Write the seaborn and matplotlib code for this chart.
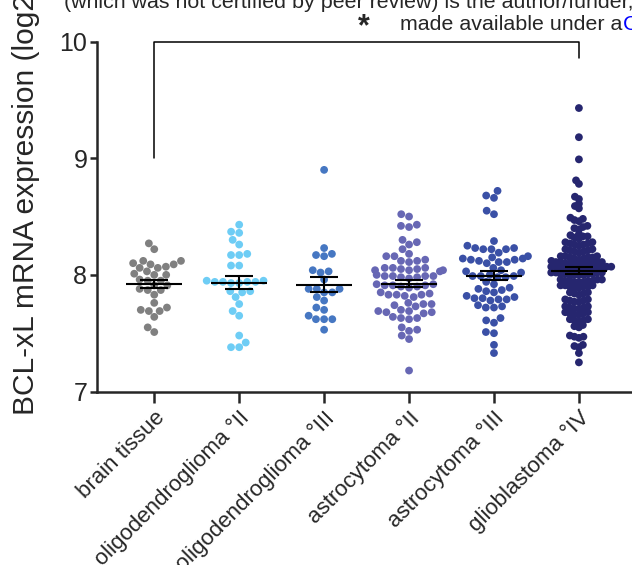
import numpy as np
import pandas as pd
import matplotlib.pyplot as plt
import seaborn as sns
from matplotlib.path import Path
from matplotlib.transforms import Affine2D

# --------------------------
# data (log2 expression)
# --------------------------
groups = ["brain tissue", "oligodendroglioma °II", "oligodendroglioma °III",
          "astrocytoma °II", "astrocytoma °III", "glioblastoma °IV"]
colors = ["#808080", "#6ECDF5", "#4677C2", "#6767B4", "#3A50A6", "#26266F"]

brain = [8.27, 8.22, 8.12, 8.12, 8.09, 8.09, 8.10, 8.06, 8.06, 8.07, 8.03, 8.00, 8.00,
         8.01, 7.95, 7.95, 7.96, 7.91, 7.91, 7.87, 7.87, 7.88, 7.83, 7.76, 7.72, 7.69,
         7.69, 7.70, 7.64, 7.55, 7.51]
oligo2 = [8.43, 8.36, 8.37, 8.30, 8.26, 8.18, 8.17, 8.17, 8.08, 8.08, 7.95, 7.94, 7.93,
          7.94, 7.95, 7.94, 7.93, 7.94, 7.86, 7.86, 7.85, 7.81, 7.75, 7.69, 7.65, 7.48,
          7.38, 7.42, 7.38]
oligo3 = [8.90, 8.23, 8.17, 8.16, 8.18, 8.02, 8.03, 8.04, 7.96, 7.88, 7.88, 7.88, 7.85,
          7.85, 7.78, 7.81, 7.72, 7.70, 7.65, 7.62, 7.62, 7.62, 7.53]
astro2 = [8.52, 8.50, 8.43, 8.41, 8.42, 8.28, 8.30, 8.26, 8.22, 8.18, 8.16, 8.16, 8.12,
          8.13, 8.11, 8.12, 8.06, 8.04, 8.05, 8.06, 8.04, 8.03, 8.04, 8.05, 8.06, 7.99,
          8.00, 7.99, 7.98, 7.99, 7.98, 7.97, 7.99, 7.91, 7.92, 7.91, 7.90, 7.91, 7.92,
          7.89, 7.90, 7.83, 7.84, 7.82, 7.83, 7.85, 7.83, 7.81, 7.75, 7.76, 7.74, 7.75,
          7.73, 7.69, 7.70, 7.68, 7.69, 7.67, 7.68, 7.63, 7.64, 7.62, 7.63, 7.55, 7.53,
          7.52, 7.48, 7.45, 7.18]
astro3 = [8.72, 8.66, 8.68, 8.52, 8.55, 8.29, 8.23, 8.22, 8.22, 8.23, 8.22, 8.25, 8.16,
          8.13, 8.14, 8.19, 8.12, 8.15, 8.11, 8.10, 8.14, 8.11, 8.13, 8.03, 8.04, 8.06,
          8.02, 7.99, 7.98, 7.99, 8.00, 7.99, 7.98, 7.94, 7.92, 7.89, 7.88, 7.86, 7.87,
          7.85, 7.82, 7.81, 7.80, 7.79, 7.79, 7.80, 7.78, 7.73, 7.72, 7.72, 7.74, 7.63,
          7.61, 7.59, 7.51, 7.50, 7.40, 7.33]
gbm = [9.43, 9.18, 8.99, 8.81, 8.78, 8.67, 8.65, 8.61, 8.59, 8.57,
       8.49, 8.47, 8.48, 8.46,
       8.42, 8.41, 8.40, 8.39,
       8.35, 8.34, 8.33, 8.32, 8.33, 8.31,
       8.28, 8.27, 8.26, 8.27, 8.25, 8.28, 8.26,
       8.22, 8.21, 8.20, 8.22, 8.19, 8.21, 8.20,
       8.16, 8.15, 8.14, 8.16, 8.15, 8.13, 8.14, 8.16, 8.15,
       8.11, 8.10, 8.09, 8.11, 8.10, 8.09, 8.11, 8.10, 8.12, 8.09, 8.10, 8.11,
       8.07, 8.06, 8.05, 8.06, 8.07, 8.05, 8.06, 8.07, 8.05, 8.06, 8.07, 8.06, 8.05, 8.06,
       8.02, 8.01, 8.00, 8.02, 8.01, 8.00, 8.02, 8.01, 8.00, 8.01, 8.02, 8.00,
       7.96, 7.95, 7.94, 7.96, 7.95, 7.94, 7.96, 7.95, 7.94, 7.95,
       7.91, 7.90, 7.89, 7.91, 7.90, 7.89, 7.90, 7.91,
       7.85, 7.84, 7.83, 7.84, 7.85,
       7.79, 7.78, 7.77, 7.78, 7.79, 7.77,
       7.73, 7.72, 7.71, 7.72, 7.73, 7.71,
       7.68, 7.67, 7.66, 7.67, 7.68, 7.66,
       7.62, 7.61, 7.60, 7.61, 7.62,
       7.57, 7.56, 7.55,
       7.48, 7.47, 7.46, 7.47,
       7.40, 7.39, 7.38,
       7.33, 7.25]

values = [brain, oligo2, oligo3, astro2, astro3, gbm]
df = pd.DataFrame({
    "group": np.repeat(groups, [len(v) for v in values]),
    "expr": np.concatenate(values),
})

sns.set_style("ticks")
plt.rcParams['font.family'] = ['Liberation Sans', 'DejaVu Sans']

fig = plt.figure(figsize=(6.32, 5.65), dpi=100)
ax = fig.add_axes([0.1535, 0.307, 0.87, 0.6195])

dot = 5.6
sns.swarmplot(data=df, x="group", y="expr", hue="group", order=groups,
              hue_order=groups, palette=colors, size=dot, legend=False,
              linewidth=0, ax=ax, warn_thresh=1)

# glioblastoma dots overlap in the original: swarm them as if smaller,
# but draw them at the same size as the others
k = 1.75
gbm_pts = ax.collections[5]
gbm_pts.set_sizes([(dot / k) ** 2])
gbm_pts.set_paths([Path.unit_circle().transformed(Affine2D().scale(0.5 * k))])

# mean +/- SEM
means = df.groupby("group")["expr"].mean().reindex(groups)
sems = df.groupby("group")["expr"].sem().reindex(groups)
xs = np.arange(len(groups))
ax.hlines(means.values, xs - 0.33, xs + 0.33, color="black", lw=1.5, zorder=5)
ax.errorbar(xs, means.values, yerr=sems.values, fmt="none", ecolor="black",
            elinewidth=1.5, capsize=10, capthick=1.5, zorder=5)

ax.set_ylim(7, 10)
ax.set_xlim(-0.674, 5.8)
ax.set_yticks([7, 8, 9, 10])
ax.tick_params(axis="y", labelsize=18, width=1.8, length=5, pad=2)
ax.tick_params(axis="x", labelsize=16, width=1.8, length=8)
ax.set_xticks(xs)
ax.set_xticklabels(groups, rotation=45, ha="right", rotation_mode="anchor")
for s in ["left", "bottom"]:
    ax.spines[s].set_linewidth(1.8)
sns.despine(ax=ax)
ax.set_xlabel("")
ax.set_ylabel("")
fig.text(0.041, 0.265, "BCL-xL mRNA expression (log2)", fontsize=21.5,
         rotation=90, ha="center", va="bottom")

# significance bracket
ax.plot([0, 0, 5, 5], [9.0, 10.0, 10.0, 9.86], color="black", lw=1.1, clip_on=False)
ax.text(2.47, 10.12, "*", fontsize=22, fontweight="bold", ha="center", va="center")

# preprint watermark fragments at the top
fig.text(0.101, 0.986, "(which was not certified by peer review) is the author/funder,",
         fontsize=15.4, ha="left", va="baseline")
fig.text(0.984, 0.947, "made available under a", fontsize=15.4, ha="right", va="baseline")
fig.text(0.986, 0.947, "C", fontsize=15.4, color="#0000FF", ha="left", va="baseline")

plt.savefig("out.png", dpi=100)
